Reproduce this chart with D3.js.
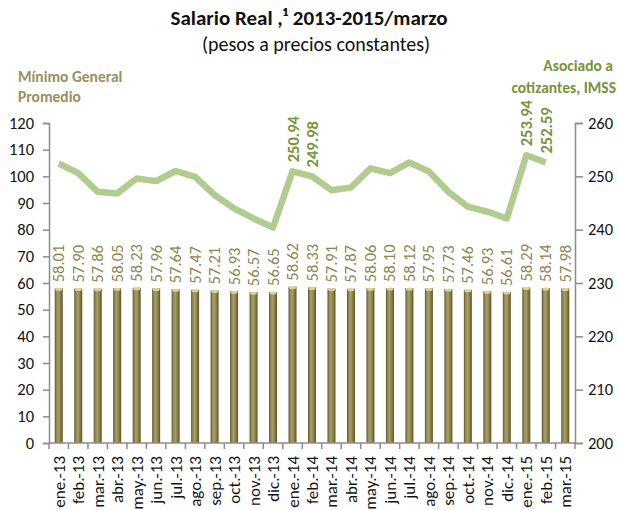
<!DOCTYPE html>
<html>
<head>
<meta charset="utf-8">
<script src="https://cdn.jsdelivr.net/npm/d3@7"></script>
<style>
  body { margin: 0; background: #fff; }
  svg { display: block; font-family: Carlito, "Liberation Sans Narrow", "Open Sans", sans-serif; }
</style>
</head>
<body>
<script>
// Salario real: minimo general (barras, eje izq.) e IMSS (linea, eje der.)

const months = ['ene.-13','feb.-13','mar.-13','abr.-13','may.-13','jun.-13','jul.-13','ago.-13','sep.-13','oct.-13','nov.-13','dic.-13',
  'ene.-14','feb.-14','mar.-14','abr.-14','may.-14','jun.-14','jul.-14','ago.-14','sep.-14','oct.-14','nov.-14','dic.-14',
  'ene.-15','feb.-15','mar.-15'];
const minimo = [58.01,57.90,57.86,58.05,58.23,57.96,57.64,57.47,57.21,56.93,56.57,56.65,
  58.62,58.33,57.91,57.87,58.06,58.10,58.12,57.95,57.73,57.46,56.93,56.61,
  58.29,58.14,57.98];
const imss = [252.4,250.6,247.1,246.8,249.6,249.1,251.0,249.9,246.5,244.0,242.1,240.4,
  250.94,249.98,247.4,247.9,251.5,250.6,252.6,250.9,247.1,244.3,243.4,242.1,
  253.94,252.59,null];
const imssLabeled = ['ene.-14','feb.-14','ene.-15','feb.-15'];
const leftTicks = d3.range(0, 121, 10);
const rightTicks = d3.range(200, 261, 10);

const width = 618, height = 510;
const svg = d3.select('body').append('svg')
  .attr('width', width)
  .attr('height', height);

const x0 = 49, x1 = 575, yTop = 123, yBot = 443;
const x = d3.scaleBand().domain(months).range([x0, x1]);
const yL = d3.scaleLinear().domain([0, 120]).range([yBot, yTop]);
const yR = d3.scaleLinear().domain([200, 260]).range([yBot, yTop]);

const defs = svg.append('defs');
const grad = defs.append('linearGradient').attr('id', 'cyl').attr('x1', 0).attr('x2', 1);
[[0,'#5e5528'],[0.25,'#9a8f58'],[0.45,'#a89e66'],[0.75,'#857a44'],[1,'#5a5226']]
  .forEach(s => grad.append('stop').attr('offset', s[0]).attr('stop-color', s[1]));

// titulos
svg.append('text').attr('x', 309).attr('y', 25).attr('text-anchor', 'middle')
  .attr('font-size', 21).attr('font-weight', 'bold').attr('fill', '#111')
  .text('Salario Real ,¹ 2013-2015/marzo');
svg.append('text').attr('x', 316).attr('y', 51).attr('text-anchor', 'middle')
  .attr('font-size', 20).attr('fill', '#111')
  .text('(pesos a precios constantes)');

const olive = '#9a9060', green = '#77933c';
svg.append('text').attr('x', 18).attr('y', 82).attr('font-size', 15.5).attr('font-weight', 'bold')
  .attr('fill', olive).text('Mínimo General');
svg.append('text').attr('x', 18).attr('y', 102).attr('font-size', 15.5).attr('font-weight', 'bold')
  .attr('fill', olive).text('Promedio');
svg.append('text').attr('x', 613).attr('y', 71).attr('text-anchor', 'end').attr('font-size', 15.5)
  .attr('font-weight', 'bold').attr('fill', green).text('Asociado a');
svg.append('text').attr('x', 616).attr('y', 93).attr('text-anchor', 'end').attr('font-size', 15.5)
  .attr('font-weight', 'bold').attr('fill', green).text('cotizantes, IMSS');

// ejes
const axisColor = '#8c8c8c';
const gl = svg.append('g').attr('transform', `translate(${x0},0)`)
  .call(d3.axisLeft(yL).tickValues(leftTicks).tickSize(6).tickPadding(9));
const gr = svg.append('g').attr('transform', `translate(${x1},0)`)
  .call(d3.axisRight(yR).tickValues(rightTicks).tickSize(8).tickPadding(5));
[gl, gr].forEach(g => {
  g.select('.domain').attr('stroke', axisColor).attr('stroke-width', 1.5);
  g.selectAll('.tick line').attr('stroke', axisColor).attr('stroke-width', 1.5);
  g.selectAll('.tick text').attr('font-size', 16.5).attr('fill', '#111')
    .style('font-family', 'Carlito, "Liberation Sans Narrow", "Open Sans", sans-serif');
});

// barras
const bw = 8;
const bars = svg.append('g');
bars.selectAll('rect').data(minimo).enter().append('rect')
  .attr('x', (d, i) => x(months[i]) + x.bandwidth() / 2 - bw / 2)
  .attr('y', d => yL(d))
  .attr('width', bw)
  .attr('height', d => yBot - yL(d))
  .attr('fill', 'url(#cyl)');
bars.selectAll('ellipse').data(minimo).enter().append('ellipse')
  .attr('cx', (d, i) => x(months[i]) + x.bandwidth() / 2)
  .attr('cy', d => yL(d) + 1)
  .attr('rx', bw / 2 - 0.5).attr('ry', 1.5)
  .attr('fill', '#d9d2a0');

// eje x
const gx = svg.append('g').attr('transform', `translate(0,${yBot})`);
gx.append('line').attr('x1', x0).attr('x2', x1).attr('stroke', axisColor).attr('stroke-width', 1.5);
gx.selectAll('line.tk').data(d3.range(months.length + 1)).enter().append('line')
  .attr('class', 'tk')
  .attr('x1', i => x0 + i * x.step()).attr('x2', i => x0 + i * x.step())
  .attr('y1', 0).attr('y2', 6).attr('stroke', axisColor).attr('stroke-width', 1.5);
gx.selectAll('text').data(months).enter().append('text')
  .attr('transform', d => `translate(${x(d) + x.bandwidth() / 2 + 6},13) rotate(-90)`)
  .attr('text-anchor', 'end').attr('font-size', 17).attr('fill', '#111')
  .text(d => d);

// etiquetas barras
svg.append('g').selectAll('text').data(minimo).enter().append('text')
  .attr('transform', (d, i) => `translate(${x(months[i]) + x.bandwidth() / 2 + 5.5},${yL(d) - 6}) rotate(-90)`)
  .attr('font-size', 16.5).attr('fill', '#8e8452')
  .text(d => d.toFixed(2));

// linea IMSS
const pts = imss.map((v, i) => ({ m: months[i], v })).filter(d => d.v != null);
const line = d3.line()
  .x(d => x(d.m) + x.bandwidth() / 2)
  .y(d => yR(d.v));
svg.append('path').datum(pts)
  .attr('d', line)
  .attr('fill', 'none')
  .attr('stroke', '#b0cc8e')
  .attr('stroke-width', 6.5)
  .attr('stroke-linejoin', 'round');

svg.append('g').selectAll('text').data(pts.filter(d => imssLabeled.includes(d.m))).enter().append('text')
  .attr('transform', d => `translate(${x(d.m) + x.bandwidth() / 2 + 6},${yR(d.v) - 9}) rotate(-90)`)
  .attr('font-size', 16.5).attr('font-weight', 'bold').attr('fill', green)
  .text(d => d.v.toFixed(2));
</script>
</body>
</html>
